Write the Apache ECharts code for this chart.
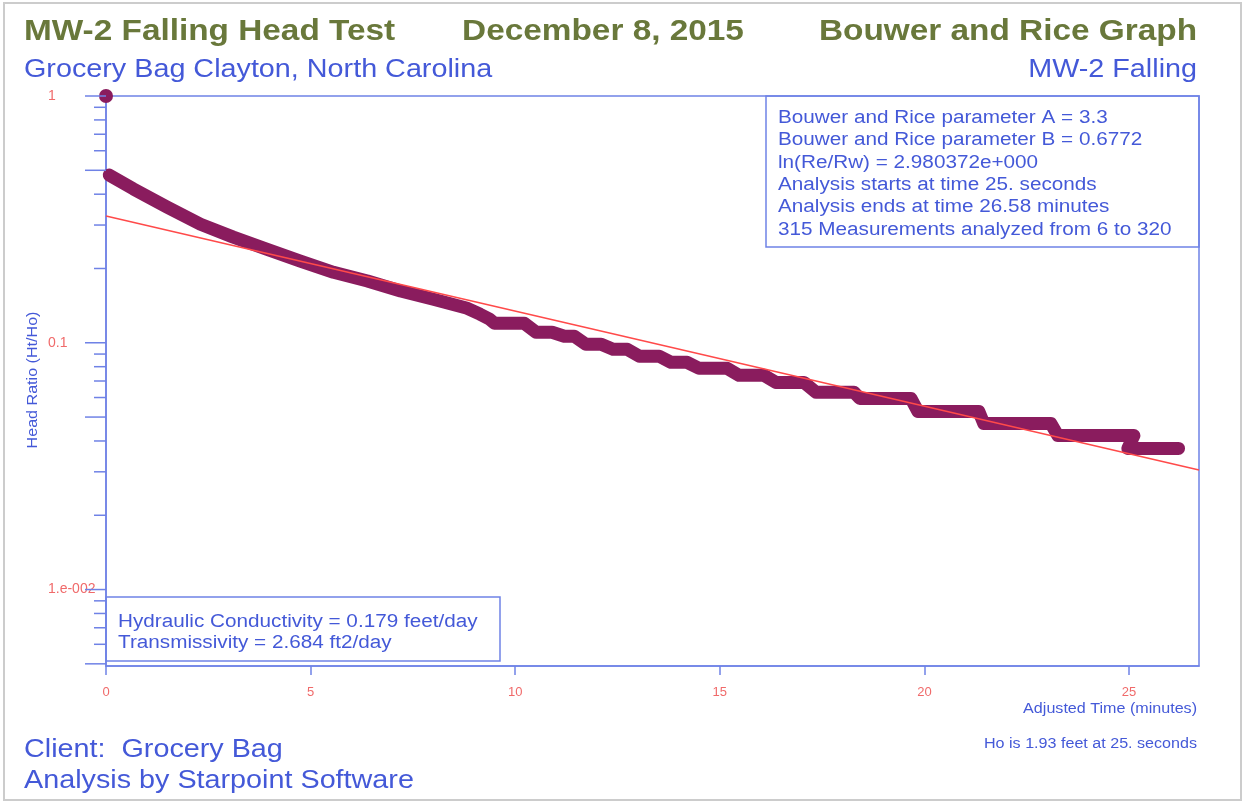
<!DOCTYPE html>
<html>
<head>
<meta charset="utf-8">
<title>MW-2 Falling Head Test</title>
<script src="https://cdn.jsdelivr.net/npm/echarts@6/dist/echarts.min.js"></script>
<style>
  html, body { margin: 0; padding: 0; background: #fff; }
  #chart { width: 1246px; height: 805px; }
</style>
</head>
<body>
<div id="chart"></div>
<script>
// head ratio (Ht/Ho), adjusted time in minutes
var timeMin = [0.08, 0.67, 1.50, 2.31, 3.11, 3.94, 4.75, 5.56, 6.39, 7.20, 8.00, 8.83, 9.14, 9.38,
  9.49, 10.22, 10.51, 10.90, 11.20, 11.44, 11.73, 12.10, 12.39, 12.74, 13.03, 13.52,
  13.81, 14.20, 14.49, 15.18, 15.47, 16.08, 16.37, 17.06, 17.35, 18.28, 18.42, 19.67,
  19.84, 21.33, 21.45, 23.09, 23.26, 25.12, 24.97, 26.21];
var headRatio = [0.478, 0.420, 0.354, 0.302, 0.268, 0.239, 0.214, 0.193, 0.178, 0.162, 0.150, 0.138, 0.1305, 0.1245,
  0.1200, 0.1200, 0.1103, 0.1103, 0.1063, 0.1063, 0.0986, 0.0986, 0.0941, 0.0941, 0.0882, 0.0882,
  0.0833, 0.0833, 0.0788, 0.0788, 0.0738, 0.0738, 0.0691, 0.0691, 0.0630, 0.0630, 0.0595, 0.0595,
  0.0527, 0.0527, 0.0471, 0.0471, 0.0421, 0.0421, 0.0373, 0.0373];
// first reading (t = 0, ratio = 1)
var startTime = [0];
var startRatio = [1];
// Bouwer and Rice straight line fit
var fitTime = [0, 26.71];
var fitRatio = [0.3265, 0.0305];

var xTickValues = [0, 5, 10, 15, 20, 25];
var yTickValues = [1, 0.9, 0.8, 0.7, 0.6, 0.5, 0.4, 0.3, 0.2,
  0.1, 0.09, 0.08, 0.07, 0.06, 0.05, 0.04, 0.03, 0.02,
  0.01, 0.009, 0.008, 0.007, 0.006, 0.005];

var infoLines = [
  'Bouwer and Rice parameter A = 3.3',
  'Bouwer and Rice parameter B = 0.6772',
  'ln(Re/Rw) = 2.980372e+000',
  'Analysis starts at time 25. seconds',
  'Analysis ends at time 26.58 minutes',
  '315 Measurements analyzed from 6 to 320'
];
var resultLines = [
  'Hydraulic Conductivity = 0.179 feet/day',
  'Transmissivity = 2.684 ft2/day'
];

var FONT = "'Liberation Sans', Arial, sans-serif";
var olive = '#69783b';
var textBlue = '#4459d8';
var frameBlue = '#6f82e6';
var tickRed = '#f06a6a';
var purple = '#8a1c5e';
var SX = 1.15; // the scanned picture is a bit stretched sideways

function pairs(xs, ys) {
  return xs.map(function (x, i) { return [x, ys[i]]; });
}

function txt(x, y, text, size, color, opt) {
  opt = opt || {};
  return {
    type: 'text', x: x, y: y, scaleX: SX, rotation: opt.rotation || 0, silent: true,
    style: {
      text: text, x: 0, y: 0,
      align: opt.align || 'left', verticalAlign: opt.va || 'middle',
      fill: color, fontSize: size, fontFamily: FONT,
      fontWeight: opt.bold ? 'bold' : 'normal',
      lineHeight: opt.lineHeight
    }
  };
}

var myChart = echarts.init(document.getElementById('chart'));
myChart.setOption({
  animation: false,
  backgroundColor: '#fff',
  grid: {
    left: 106, right: 47, top: 96, bottom: 139,
    show: true, borderColor: frameBlue, borderWidth: 1.5
  },
  xAxis: {
    type: 'value', min: 0, max: 26.71, interval: 5,
    axisLine: { lineStyle: { color: frameBlue, width: 1.5 } },
    axisTick: { show: true, length: 9, customValues: xTickValues, lineStyle: { color: frameBlue, width: 1.5 } },
    axisLabel: {
      customValues: xTickValues, color: tickRed, fontSize: 13, fontFamily: FONT, margin: 20,
      formatter: function (v) { return Math.abs(v % 5) < 1e-6 ? String(v) : ''; }
    },
    splitLine: { show: false }
  },
  yAxis: {
    type: 'log', logBase: 10, min: 0.0049, max: 1,
    axisLine: { show: true, lineStyle: { color: frameBlue, width: 1.5 } },
    axisTick: { show: false },
    axisLabel: {
      color: tickRed, fontSize: 14, fontFamily: FONT, align: 'left', margin: 58,
      formatter: function (v) {
        var e = Math.log10(v);
        if (Math.abs(e - Math.round(e)) > 1e-6) return '';
        e = Math.round(e);
        if (e === 0) return '1';
        if (e === -1) return '0.1';
        if (e === -2) return '1.e-002';
        return '';
      }
    },
    splitLine: { show: false },
    minorTick: { show: false }
  },
  series: [
    {
      name: 'Head ratio',
      type: 'line',
      data: pairs(timeMin, headRatio),
      showSymbol: false,
      clip: false,
      lineStyle: { color: purple, width: 13, cap: 'round', join: 'round' },
      z: 2
    },
    {
      name: 'Start',
      type: 'scatter',
      data: pairs(startTime, startRatio),
      symbolSize: 14,
      clip: false,
      itemStyle: { color: purple, opacity: 1 },
      z: 3
    },
    {
      name: 'Fit',
      type: 'line',
      data: pairs(fitTime, fitRatio),
      showSymbol: false,
      lineStyle: { color: '#ff4a4a', width: 1.5 },
      z: 4
    },
    {
      name: 'yTicks',
      type: 'custom',
      clip: false,
      silent: true,
      data: yTickValues.map(function (v) { return [0, v]; }),
      encode: { x: 0, y: 1 },
      renderItem: function (params, api) {
        var v = api.value(1);
        var p = api.coord([0, v]);
        var exp = Math.floor(Math.log10(v) + 1e-9);
        var lead = Math.round(v / Math.pow(10, exp));
        var len = (lead === 1 || lead === 5) ? 21 : 12;
        return {
          type: 'line',
          shape: { x1: p[0] - len, y1: p[1], x2: p[0], y2: p[1] },
          style: { stroke: frameBlue, lineWidth: 1.5 }
        };
      },
      z: 5
    }
  ],
  graphic: [
    { type: 'rect', silent: true, shape: { x: 4, y: 3, width: 1237, height: 797 },
      style: { fill: 'none', stroke: '#cccccc', lineWidth: 2 } },
    txt(24, 32, 'MW-2 Falling Head Test', 29, olive, { bold: true }),
    txt(603, 32, 'December 8, 2015', 29, olive, { bold: true, align: 'center' }),
    txt(1197, 32, 'Bouwer and Rice Graph', 29, olive, { bold: true, align: 'right' }),
    txt(24, 70, 'Grocery Bag Clayton, North Carolina', 25, textBlue),
    txt(1197, 70, 'MW-2 Falling', 25, textBlue, { align: 'right' }),
    { type: 'rect', silent: true, shape: { x: 766, y: 96, width: 433, height: 151 },
      style: { fill: 'none', stroke: frameBlue, lineWidth: 1.5 } },
    txt(778, 107, infoLines.join('\n'), 18, textBlue, { va: 'top', lineHeight: 22.3 }),
    { type: 'rect', silent: true, shape: { x: 106, y: 597, width: 394, height: 64 },
      style: { fill: 'none', stroke: frameBlue, lineWidth: 1.5 } },
    txt(118, 611, resultLines.join('\n'), 18, textBlue, { va: 'top', lineHeight: 21.5 }),
    txt(33, 380, 'Head Ratio (Ht/Ho)', 14, textBlue, { align: 'center', rotation: Math.PI / 2 }),
    txt(1197, 709, 'Adjusted Time (minutes)', 14, textBlue, { align: 'right' }),
    txt(1197, 744, 'Ho is 1.93 feet at 25. seconds', 14, textBlue, { align: 'right' }),
    txt(24, 750, 'Client:  Grocery Bag', 25, textBlue),
    txt(24, 781, 'Analysis by Starpoint Software', 25, textBlue)
  ]
});
window.addEventListener('resize', function () { myChart.resize(); });
</script>
</body>
</html>
